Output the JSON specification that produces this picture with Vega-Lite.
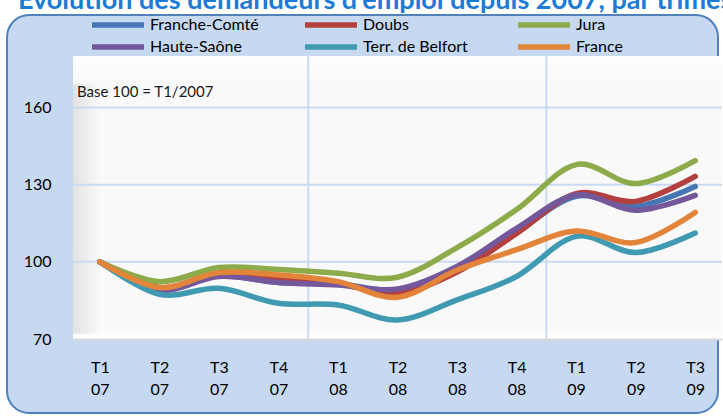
{
  "$schema": "https://vega.github.io/schema/vega-lite/v6.json",
  "width": 649,
  "height": 283,
  "autosize": {"type": "none"},
  "padding": {"left": 73, "top": 56, "right": 1, "bottom": 77},
  "background": "#ffffff",
  "config": {"view": {"stroke": null}, "font": "Lato"},
  "datasets": {
    "d": [
      {"s": "Franche-Comté", "i": 0, "v": 100}, {"s": "Franche-Comté", "i": 1, "v": 89.5}, {"s": "Franche-Comté", "i": 2, "v": 94.5}, {"s": "Franche-Comté", "i": 3, "v": 92}, {"s": "Franche-Comté", "i": 4, "v": 91.5}, {"s": "Franche-Comté", "i": 5, "v": 89}, {"s": "Franche-Comté", "i": 6, "v": 97.5}, {"s": "Franche-Comté", "i": 7, "v": 111.5}, {"s": "Franche-Comté", "i": 8, "v": 125.5}, {"s": "Franche-Comté", "i": 9, "v": 121.5}, {"s": "Franche-Comté", "i": 10, "v": 129.3},
      {"s": "Doubs", "i": 0, "v": 100}, {"s": "Doubs", "i": 1, "v": 90}, {"s": "Doubs", "i": 2, "v": 95.5}, {"s": "Doubs", "i": 3, "v": 93}, {"s": "Doubs", "i": 4, "v": 91.5}, {"s": "Doubs", "i": 5, "v": 87.8}, {"s": "Doubs", "i": 6, "v": 96}, {"s": "Doubs", "i": 7, "v": 111}, {"s": "Doubs", "i": 8, "v": 126.5}, {"s": "Doubs", "i": 9, "v": 123.5}, {"s": "Doubs", "i": 10, "v": 133.2},
      {"s": "Jura", "i": 0, "v": 100}, {"s": "Jura", "i": 1, "v": 92.3}, {"s": "Jura", "i": 2, "v": 97.8}, {"s": "Jura", "i": 3, "v": 97}, {"s": "Jura", "i": 4, "v": 95.6}, {"s": "Jura", "i": 5, "v": 94}, {"s": "Jura", "i": 6, "v": 105.5}, {"s": "Jura", "i": 7, "v": 120.3}, {"s": "Jura", "i": 8, "v": 137.8}, {"s": "Jura", "i": 9, "v": 130.4}, {"s": "Jura", "i": 10, "v": 139.3},
      {"s": "Haute-Saône", "i": 0, "v": 100}, {"s": "Haute-Saône", "i": 1, "v": 89}, {"s": "Haute-Saône", "i": 2, "v": 94.3}, {"s": "Haute-Saône", "i": 3, "v": 92}, {"s": "Haute-Saône", "i": 4, "v": 91}, {"s": "Haute-Saône", "i": 5, "v": 89.4}, {"s": "Haute-Saône", "i": 6, "v": 98.2}, {"s": "Haute-Saône", "i": 7, "v": 113}, {"s": "Haute-Saône", "i": 8, "v": 126}, {"s": "Haute-Saône", "i": 9, "v": 120}, {"s": "Haute-Saône", "i": 10, "v": 125.8},
      {"s": "Terr. de Belfort", "i": 0, "v": 100}, {"s": "Terr. de Belfort", "i": 1, "v": 87.4}, {"s": "Terr. de Belfort", "i": 2, "v": 89.7}, {"s": "Terr. de Belfort", "i": 3, "v": 83.9}, {"s": "Terr. de Belfort", "i": 4, "v": 83.2}, {"s": "Terr. de Belfort", "i": 5, "v": 77.4}, {"s": "Terr. de Belfort", "i": 6, "v": 85.2}, {"s": "Terr. de Belfort", "i": 7, "v": 94.3}, {"s": "Terr. de Belfort", "i": 8, "v": 109.9}, {"s": "Terr. de Belfort", "i": 9, "v": 103.6}, {"s": "Terr. de Belfort", "i": 10, "v": 111.2},
      {"s": "France", "i": 0, "v": 100}, {"s": "France", "i": 1, "v": 90}, {"s": "France", "i": 2, "v": 95.8}, {"s": "France", "i": 3, "v": 94.9}, {"s": "France", "i": 4, "v": 92.3}, {"s": "France", "i": 5, "v": 86.2}, {"s": "France", "i": 6, "v": 96.8}, {"s": "France", "i": 7, "v": 104.7}, {"s": "France", "i": 8, "v": 112}, {"s": "France", "i": 9, "v": 107.5}, {"s": "France", "i": 10, "v": 119.2}
    ],
    "hgrid": [{"g": 100}, {"g": 130}, {"g": 160}],
    "vgrid": [{"g": 3.5}, {"g": 7.5}],
    "one": [{}]
  },
  "layer": [
    {
      "data": {"name": "one"},
      "mark": {"type": "rect", "fill": "#c6d9f1", "stroke": "#4f81bd", "strokeWidth": 2, "cornerRadius": 22},
      "encoding": {
        "x": {"datum": -1.558, "type": "quantitative", "scale": {"domain": [-0.45, 10.45], "nice": false, "zero": false}},
        "x2": {"datum": 10.383},
        "y": {"datum": 195.9, "type": "quantitative", "scale": {"domain": [70, 180], "nice": false, "zero": false}},
        "y2": {"datum": 41.2}
      }
    },
    {
      "data": {"name": "one"},
      "mark": {
        "type": "rect",
        "fill": {"gradient": "linear", "x1": 0, "y1": 0, "x2": 0, "y2": 1,
          "stops": [{"offset": 0, "color": "#ffffff"}, {"offset": 0.09, "color": "#f9f9f9"}, {"offset": 0.95, "color": "#f9f9f9"}, {"offset": 1, "color": "#ffffff"}]}
      },
      "encoding": {
        "x": {"datum": -0.45, "type": "quantitative", "scale": {"domain": [-0.45, 10.45], "nice": false, "zero": false}},
        "x2": {"datum": 10.45},
        "y": {"datum": 70, "type": "quantitative", "scale": {"domain": [70, 180], "nice": false, "zero": false}},
        "y2": {"datum": 180}
      }
    },
    {
      "data": {"name": "one"},
      "mark": {
        "type": "rect",
        "fill": {"gradient": "linear", "x1": 0, "y1": 0, "x2": 1, "y2": 0,
          "stops": [{"offset": 0, "color": "#e2e2e2"}, {"offset": 1, "color": "#f9f9f9"}]}
      },
      "encoding": {
        "x": {"datum": -0.45, "type": "quantitative", "scale": {"domain": [-0.45, 10.45], "nice": false, "zero": false}},
        "x2": {"datum": 0},
        "y": {"datum": 72, "type": "quantitative", "scale": {"domain": [70, 180], "nice": false, "zero": false}},
        "y2": {"datum": 169}
      }
    },
    {
      "data": {"name": "hgrid"},
      "mark": {"type": "rule", "stroke": "#c9dbf2", "strokeWidth": 2},
      "encoding": {"y": {"field": "g", "type": "quantitative", "scale": {"domain": [70, 180], "nice": false, "zero": false}}}
    },
    {
      "data": {"name": "vgrid"},
      "mark": {"type": "rule", "stroke": "#c9dbf2", "strokeWidth": 2},
      "encoding": {"x": {"field": "g", "type": "quantitative", "scale": {"domain": [-0.45, 10.45], "nice": false, "zero": false}}}
    },
    {
      "data": {"name": "d"},
      "mark": {"type": "line", "interpolate": "cardinal", "strokeWidth": 5.5, "strokeCap": "round", "strokeJoin": "round"},
      "encoding": {
        "x": {
          "field": "i", "type": "quantitative",
          "scale": {"domain": [-0.45, 10.45], "nice": false, "zero": false},
          "axis": {
            "values": [0, 1, 2, 3, 4, 5, 6, 7, 8, 9, 10],
            "labelExpr": "['T' + (datum.value % 4 + 1), '0' + (7 + floor(datum.value / 4))]",
            "grid": false, "ticks": false, "domain": true, "domainColor": "#d9d9d9", "domainWidth": 2,
            "labelFontSize": 16, "labelColor": "#000000", "labelPadding": 20, "labelLineHeight": 22,
            "labelFont": "Lato", "title": null, "zindex": 1
          }
        },
        "y": {
          "field": "v", "type": "quantitative",
          "scale": {"domain": [70, 180], "nice": false, "zero": false},
          "axis": {
            "values": [70, 100, 130, 160], "grid": false, "ticks": false, "domain": false,
            "labelFontSize": 16, "labelColor": "#000000", "labelPadding": 22, "labelFont": "Lato", "title": null, "zindex": 1
          }
        },
        "color": {
          "field": "s", "type": "nominal",
          "scale": {
            "domain": ["Franche-Comté", "Doubs", "Jura", "Haute-Saône", "Terr. de Belfort", "France"],
            "range": ["#4776b4", "#b3403e", "#8dab4b", "#74589b", "#3f9ab2", "#e3843b"]
          },
          "legend": {
            "orient": "none", "legendX": 16, "legendY": -42, "direction": "horizontal", "columns": 3,
            "symbolType": "M-1,0H5.5", "symbolSize": 256, "symbolStrokeWidth": 5.5,
            "labelFontSize": 16, "labelFont": "Lato", "labelColor": "#000000", "title": null,
            "gridAlign": "all", "columnPadding": 35, "rowPadding": -4, "labelOffset": 39, "padding": 0, "zindex": 1
          }
        }
      }
    },
    {
      "data": {"name": "one"},
      "mark": {"type": "text", "align": "left", "baseline": "middle", "fontSize": 15, "font": "Lato", "color": "#1a1a1a"},
      "encoding": {
        "x": {"datum": -0.383, "type": "quantitative", "scale": {"domain": [-0.45, 10.45], "nice": false, "zero": false}},
        "y": {"datum": 166, "type": "quantitative", "scale": {"domain": [70, 180], "nice": false, "zero": false}},
        "text": {"value": "Base 100 = T1/2007"}
      }
    },
    {
      "data": {"name": "one"},
      "mark": {"type": "text", "align": "left", "baseline": "alphabetic", "fontSize": 27, "fontWeight": "bold", "font": "Lato", "color": "#1c7cd5"},
      "encoding": {
        "x": {"datum": -1.374, "type": "quantitative", "scale": {"domain": [-0.45, 10.45], "nice": false, "zero": false}},
        "y": {"datum": 198.3, "type": "quantitative", "scale": {"domain": [70, 180], "nice": false, "zero": false}},
        "text": {"value": "Évolution des demandeurs d'emploi depuis 2007, par trimestre"}
      }
    }
  ]
}
